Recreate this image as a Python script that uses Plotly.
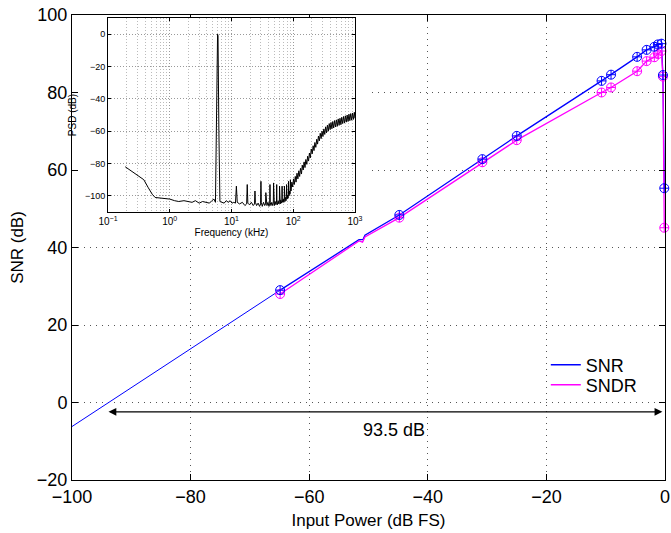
import plotly.graph_objects as go

# ---------------- main chart data ----------------
input_power = [-64.9, -44.8, -30.8, -25.0, -10.7, -9.1, -4.7, -3.1, -1.8, -1.2, -0.6, -0.35, -0.12]
snr_values = [29.0, 48.4, 62.8, 68.8, 83.0, 84.6, 89.2, 91.0, 91.8, 92.4, 92.6, 84.5, 55.3]
sndr_values = [28.0, 47.7, 62.0, 67.7, 80.0, 81.3, 85.5, 88.1, 89.1, 89.9, 90.7, 84.1, 45.1]

# small step in the measured curves near -51 dB FS (no markers there)
snr_step_x = [-51.6, -50.9, -50.6]
snr_step_y = [42.0, 42.1, 43.2]
sndr_step_x = [-51.6, -51.0, -50.6]
sndr_step_y = [41.7, 41.4, 42.7]

# straight extrapolation of SNR down to -100 dB FS
snr_fit_x = [-100.0, -64.9]
snr_fit_y = [-6.2, 29.0]

dynamic_range_db = 93.5
dr_start = -94.1
dr_end = -0.44
dr_level = -2.4
dr_label_x = -45.7
dr_label_y = -7.1

x_ticks = [-100, -80, -60, -40, -20, 0]
y_ticks = [-20, 0, 20, 40, 60, 80, 100]

# ---------------- inset PSD data ----------------
psd_low = [(0.19, -82), (0.25, -85), (0.3, -87), (0.38, -90), (0.45, -95), (0.52, -99),
           (0.58, -101), (0.7, -101.5), (0.85, -102), (1.0, -102), (1.2, -103), (1.4, -103.5),
           (1.7, -103), (2.0, -103.5), (2.3, -104), (2.6, -103), (3.0, -104.5), (3.4, -103.5),
           (3.9, -104), (4.4, -104.5), (4.8, -103), (5.2, -102), (5.5, -104), (5.75, -60),
           (5.95, 0), (6.05, -1), (6.25, -60), (6.5, -103.5), (7.0, -104), (7.6, -104.5),
           (8.2, -103), (8.9, -104), (9.5, -103), (10.2, -104.5), (10.9, -104), (11.6, -104.5)]
psd_harmonics = [(12.0, -94), (12.4, -104), (13.5, -105), (15, -104), (16.5, -106), (17.6, -105),
                 (18.0, -93), (18.4, -104.5), (19.5, -105.5), (21, -104), (22.5, -106), (23.6, -105),
                 (24.0, -97), (24.4, -104), (25.5, -106), (27, -104.5), (28.5, -106.5), (29.6, -105),
                 (30.0, -91), (30.4, -104), (31.5, -106.5), (33, -104), (34.5, -106), (35.6, -105),
                 (36.0, -98), (36.4, -104), (37.5, -106), (39, -104), (40.5, -106.5), (41.6, -104.5),
                 (42.0, -93), (42.4, -104), (43.5, -106), (45, -104), (46.5, -106), (47.6, -104.5),
                 (48.0, -92), (48.4, -104), (49.5, -106), (51, -103.5), (52.5, -105.5), (53.6, -104),
                 (54.0, -93), (54.4, -103.5), (55.5, -105.5), (57, -103), (58.5, -105), (59.6, -103.5),
                 (60.0, -94), (60.4, -103), (61.5, -105), (63, -102.5), (64.5, -104.5), (65.6, -103),
                 (66.0, -94), (66.4, -102.5), (67.5, -104), (69, -102), (70.5, -104), (71.6, -102),
                 (72.0, -94), (72.4, -101.5), (73.5, -103.5), (75, -101), (76.5, -103), (77.6, -100.5),
                 (78.0, -93), (78.4, -100), (79.5, -102), (81, -99.5), (82.5, -101.5), (83.6, -99),
                 (84.0, -91), (84.4, -98.5), (85.5, -100), (87, -97), (88.5, -99), (89.6, -97),
                 (90.0, -90), (90.4, -96), (92, -97)]
psd_rise = [(95, -91.5), (98, -94.5), (101, -89.5), (104, -93), (108, -88), (111, -91.5),
            (115, -86), (119, -89.5), (123, -84.5), (127, -88), (131, -83), (136, -86.5),
            (140, -81), (145, -84), (150, -79), (155, -82.5), (160, -77.5), (166, -80.5),
            (171, -75.5), (177, -78.5), (183, -73.5), (189, -76.5), (196, -71), (203, -74),
            (210, -69), (217, -72), (224, -67), (232, -70), (240, -65), (248, -68),
            (256, -63), (265, -66), (274, -61.3), (283, -64.6), (293, -60), (303, -63.3),
            (313, -58.6), (324, -62), (335, -57.3), (346, -61), (358, -56.3), (370, -60),
            (383, -55.3), (396, -59), (409, -54.6), (423, -58.5), (437, -54), (452, -58),
            (468, -53.4), (484, -57.4), (500, -53), (517, -57), (535, -52.4), (553, -56.4),
            (572, -52), (591, -56), (611, -51.4), (632, -55.3), (654, -50.9), (676, -55),
            (699, -50.5), (723, -54.4), (747, -50), (773, -54), (799, -49.5), (826, -53.5),
            (854, -49.1), (884, -53.2), (914, -48.8), (945, -52.7), (977, -48.3), (1000, -52)]

psd_freq = [p[0] for p in psd_low + psd_harmonics + psd_rise]
psd_db = [p[1] for p in psd_low + psd_harmonics + psd_rise]

inset_x_ticks = [0.1, 1, 10, 100, 1000]
inset_x_labels = ["10<sup>−1</sup>", "10<sup>0</sup>", "10<sup>1</sup>", "10<sup>2</sup>", "10<sup>3</sup>"]
inset_x_minor = [0.2, 0.3, 0.4, 0.5, 0.6, 0.7, 0.8, 0.9, 2, 3, 4, 5, 6, 7, 8, 9,
                 20, 30, 40, 50, 60, 70, 80, 90, 200, 300, 400, 500, 600, 700, 800, 900]
inset_y_ticks = [-100, -80, -60, -40, -20, 0]

# ---------------- build figure ----------------
BLUE = "#0000ff"
MAGENTA = "#ff00ff"
FONT = "Liberation Sans, Arial, Helvetica, sans-serif"

snr_line = sorted(list(zip(input_power, snr_values)) + list(zip(snr_step_x, snr_step_y)))
sndr_line = sorted(list(zip(input_power, sndr_values)) + list(zip(sndr_step_x, sndr_step_y)))

fig = go.Figure()
fig.add_trace(go.Scatter(x=snr_fit_x, y=snr_fit_y, mode="lines",
                         line=dict(color=BLUE, width=1), showlegend=False, hoverinfo="skip"))
fig.add_trace(go.Scatter(x=[p[0] for p in snr_line], y=[p[1] for p in snr_line], mode="lines",
                         line=dict(color=BLUE, width=1.3), name="SNR", legend="legend"))
fig.add_trace(go.Scatter(x=[p[0] for p in sndr_line], y=[p[1] for p in sndr_line], mode="lines",
                         line=dict(color=MAGENTA, width=1.3), name="SNDR", legend="legend2"))
fig.add_trace(go.Scatter(x=input_power, y=sndr_values, mode="markers", showlegend=False,
                         cliponaxis=False,
                         marker=dict(symbol="circle-cross-open", size=9, color=MAGENTA,
                                     line=dict(width=1, color=MAGENTA))))
fig.add_trace(go.Scatter(x=input_power, y=snr_values, mode="markers", showlegend=False,
                         cliponaxis=False,
                         marker=dict(symbol="circle-cross-open", size=9, color=BLUE,
                                     line=dict(width=1, color=BLUE))))

fig.add_trace(go.Scatter(x=psd_freq, y=psd_db, mode="lines", xaxis="x2", yaxis="y2",
                         line=dict(color="black", width=1), showlegend=False))

main_axis = dict(showline=True, linecolor="black", linewidth=1, mirror="allticks",
                 ticks="inside", ticklen=6, tickcolor="black", zeroline=False,
                 showgrid=True, gridcolor="#555555", gridwidth=1, griddash="1px,5px",
                 automargin=False,
                 tickfont=dict(size=18, color="black", family=FONT))

legend_style = dict(xanchor="left", yanchor="top", bgcolor="rgba(0,0,0,0)",
                    font=dict(size=18, color="black"))

fig.update_layout(
    width=671, height=533, autosize=False,
    margin=dict(l=72, r=6, t=15, b=53),
    paper_bgcolor="white", plot_bgcolor="white",
    font=dict(family=FONT, color="black"),
    xaxis=dict(main_axis, range=[-100, 0], tickvals=x_ticks, domain=[0, 1],
               title=dict(text="Input Power (dB FS)", font=dict(size=17), standoff=8)),
    yaxis=dict(main_axis, range=[-20, 100], tickvals=y_ticks, domain=[0, 1],
               title=dict(text="SNR (dB)", font=dict(size=17), standoff=8)),
    xaxis2=dict(domain=[0.0607, 0.4772], anchor="y2", type="log", range=[-1, 3],
                tickvals=inset_x_ticks, ticktext=inset_x_labels, automargin=False,
                showline=True, linecolor="black", linewidth=1, mirror="allticks",
                ticks="inside", ticklen=3, tickcolor="black",
                showgrid=True, gridcolor="#999999", griddash="1px,2px",
                minor=dict(tickvals=inset_x_minor, showgrid=True, gridcolor="#bbbbbb",
                           griddash="1px,2px", ticks=""),
                tickfont=dict(size=10, color="black"),
                title=dict(text="Frequency (kHz)", font=dict(size=10), standoff=1)),
    yaxis2=dict(domain=[0.5763, 0.9935], anchor="x2", range=[-110, 10],
                tickvals=inset_y_ticks, automargin=False,
                showline=True, linecolor="black", linewidth=1, mirror="allticks",
                ticks="inside", ticklen=3, tickcolor="black", zeroline=False,
                showgrid=True, gridcolor="#999999", griddash="1px,2px",
                tickfont=dict(size=9, color="black"),
                title=dict(text="PSD (dB)", font=dict(size=10), standoff=6)),
    legend=dict(legend_style, x=0.799, y=0.287),
    legend2=dict(legend_style, x=0.799, y=0.244),
    shapes=[dict(type="rect", xref="x", yref="y", x0=-100, x1=-50.1, y0=41.8, y1=100,
                 fillcolor="white", line=dict(width=0), layer="between")],
    annotations=[
        dict(x=dr_end, y=dr_level, ax=dr_start, ay=dr_level, xref="x", yref="y",
             axref="x", ayref="y", text="", showarrow=True, arrowside="end+start",
             arrowhead=2, startarrowhead=2, arrowsize=1.3, startarrowsize=1.3,
             arrowwidth=1.2, arrowcolor="black"),
        dict(x=dr_label_x, y=dr_label_y, xref="x", yref="y", text=f"{dynamic_range_db} dB",
             showarrow=False, font=dict(size=18, color="black")),
    ],
)

fig.write_html("out.html", config={"displayModeBar": False},
               post_script="document.body.style.margin='0';")
